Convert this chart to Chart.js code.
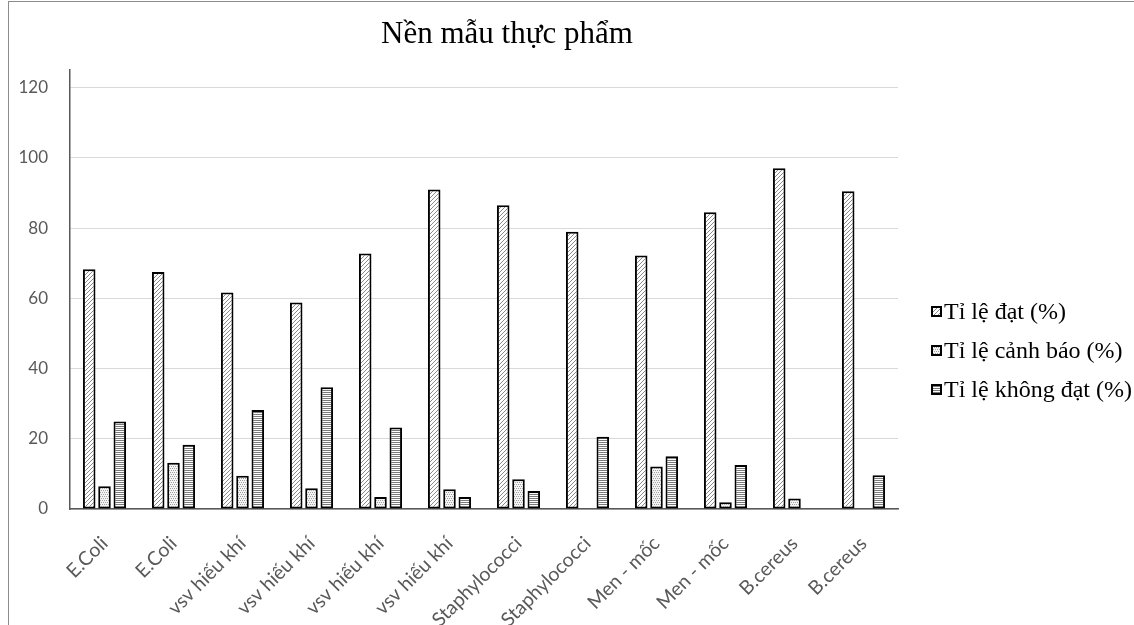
<!DOCTYPE html>
<html>
<head>
<meta charset="utf-8">
<script src="https://cdn.jsdelivr.net/npm/chart.js@4"></script>
<style>
  body { margin: 0; background: #fff; overflow: hidden; }
  #frame { position: absolute; left: 8px; top: 1px; width: 1300px; height: 800px; border: 1px solid #8c8c8c; }
  #wrap { position: absolute; left: 0; top: 0; width: 1014px; height: 625px; }
  #legend { position: absolute; left: 931px; top: 292px; font-family: "Liberation Serif", serif; font-size: 24px; color: #000; }
  #legend div { height: 39px; display: flex; align-items: center; white-space: nowrap; }
  #legend canvas { margin-right: 2px; }
</style>
</head>
<body>
<div id="frame"></div>
<div id="wrap"><canvas id="chart"></canvas></div>
<div id="legend"></div>
<script>
const categories = ['E.Coli', 'E.Coli', 'vsv hiếu khí', 'vsv hiếu khí', 'vsv hiếu khí', 'vsv hiếu khí',
  'Staphylococci', 'Staphylococci', 'Men - mốc', 'Men - mốc', 'B.cereus', 'B.cereus'];
const tiLeDat = [68.3, 67.5, 61.7, 58.8, 72.8, 91.0, 86.5, 79.0, 72.2, 84.5, 97.1, 90.5];
const tiLeCanhBao = [6.5, 13.2, 9.5, 5.9, 3.4, 5.6, 8.5, 0, 12.1, 1.9, 3.0, 0];
const tiLeKhongDat = [24.9, 18.3, 28.2, 34.7, 23.2, 3.4, 5.1, 20.6, 15.0, 12.5, 0, 9.6];
const seriesNames = ['Tỉ lệ đạt (%)', 'Tỉ lệ cảnh báo (%)', 'Tỉ lệ không đạt (%)'];
const yTicks = [0, 20, 40, 60, 80, 100, 120];

// fill patterns like the Excel black & white style
function makePattern(kind) {
  const c = document.createElement('canvas');
  const g = c.getContext('2d');
  if (kind === 'diag') {
    c.width = 4; c.height = 4;
    g.fillStyle = '#fff'; g.fillRect(0, 0, 4, 4);
    g.fillStyle = '#8a8a8a';
    for (let i = 0; i < 4; i++) g.fillRect(3 - i, i, 1, 1);
  } else if (kind === 'dots') {
    c.width = 4; c.height = 4;
    g.fillStyle = '#f4f4f4'; g.fillRect(0, 0, 4, 4);
    g.fillStyle = '#a0a0a0';
    g.fillRect(0, 0, 1, 1); g.fillRect(2, 0, 1, 1);
    g.fillRect(1, 2, 1, 1); g.fillRect(3, 2, 1, 1);
  } else {
    c.width = 2; c.height = 2;
    g.fillStyle = '#fff'; g.fillRect(0, 0, 2, 2);
    g.fillStyle = '#7a7a7a'; g.fillRect(0, 0, 2, 1);
  }
  return g.createPattern(c, 'repeat');
}

const fills = [makePattern('diag'), makePattern('dots'), makePattern('lines')];
const seriesData = [tiLeDat, tiLeCanhBao, tiLeKhongDat];

const datasets = seriesNames.map((name, i) => ({
  label: name,
  data: seriesData[i],
  backgroundColor: fills[i],
  borderColor: '#000',
  borderWidth: ctx => (ctx.raw ? 2 : 0),
  borderSkipped: false,
  categoryPercentage: 0.665,
  barPercentage: 0.82
}));

new Chart(document.getElementById('chart'), {
  type: 'bar',
  data: { labels: categories, datasets },
  options: {
    responsive: true,
    maintainAspectRatio: false,
    animation: false,
    layout: { padding: 0 },
    plugins: {
      legend: { display: false },
      tooltip: { enabled: false },
      title: {
        display: true,
        text: 'Nền mẫu thực phẩm',
        color: '#000',
        font: { family: 'Liberation Serif', size: 31, weight: 'normal' },
        padding: { top: 16, bottom: 17 }
      }
    },
    scales: {
      x: {
        grid: { display: false },
        border: { color: '#595959', width: 1.5 },
        afterFit: s => { s.height = 116; },
        ticks: {
          color: '#595959',
          font: { family: 'Lato', size: 19.5 },
          minRotation: 45,
          maxRotation: 45,
          autoSkip: false,
          padding: 15
        }
      },
      y: {
        min: 0,
        max: 125,
        afterBuildTicks: axis => { axis.ticks = yTicks.map(v => ({ value: v })); },
        afterFit: s => { s.width = 70; },
        grid: { color: '#d9d9d9', drawTicks: false },
        border: { color: '#595959', width: 1.5 },
        ticks: {
          color: '#595959',
          font: { family: 'Lato', size: 17 },
          padding: 22
        }
      },
      // empty right-hand box, keeps room for the legend so the title stays centred like Excel
      side: {
        position: 'right',
        grid: { display: false },
        border: { display: false },
        ticks: { display: false },
        afterFit: s => { s.width = 116; }
      }
    }
  }
});

// legend built from the same series names and fills
const legend = document.getElementById('legend');
seriesNames.forEach((name, i) => {
  const row = document.createElement('div');
  const sw = document.createElement('canvas');
  sw.width = 11; sw.height = 11;
  const g = sw.getContext('2d');
  g.fillStyle = fills[i]; g.fillRect(0, 0, 11, 11);
  g.strokeStyle = '#000'; g.lineWidth = 2; g.strokeRect(1, 1, 9, 9);
  row.appendChild(sw);
  row.appendChild(document.createTextNode(name));
  legend.appendChild(row);
});
</script>
</body>
</html>
